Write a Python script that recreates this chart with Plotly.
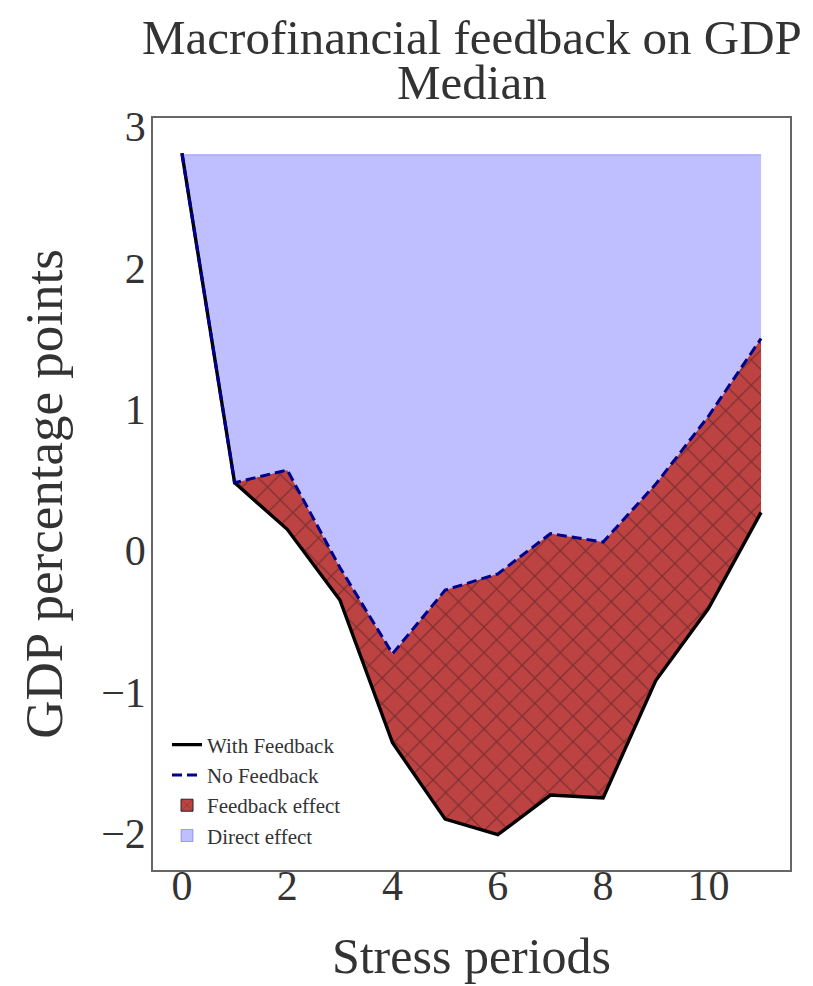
import plotly.graph_objects as go

periods = list(range(12))
with_feedback = [2.81, 0.48, 0.15, -0.35, -1.36, -1.90, -2.01, -1.73, -1.75, -0.92, -0.41, 0.27]
no_feedback = [2.81, 0.48, 0.57, -0.12, -0.73, -0.28, -0.165, 0.12, 0.06, 0.47, 0.95, 1.50]
baseline = [2.8] * 12

title_lines = ["Macrofinancial feedback on GDP", "Median"]
x_ticks = [0, 2, 4, 6, 8, 10]
y_ticks = [-2, -1, 0, 1, 2, 3]

FONT = "Liberation Serif"
TXT = "#333333"
RED = "#bd4343"
BLUE_FILL = "rgba(0,0,255,0.25)"

fig = go.Figure()

# Direct effect fill (between baseline and no-feedback path)
fig.add_trace(go.Scatter(x=periods, y=baseline, mode="lines",
                         line=dict(color="rgba(0,0,255,0.3)", width=1),
                         showlegend=False, hoverinfo="skip"))
fig.add_trace(go.Scatter(x=periods, y=no_feedback, mode="lines",
                         line=dict(width=0), fill="tonexty", fillcolor=BLUE_FILL,
                         showlegend=False, hoverinfo="skip"))
# Feedback effect fill (between no-feedback and with-feedback)
fig.add_trace(go.Scatter(x=periods, y=no_feedback, mode="lines",
                         line=dict(width=0), showlegend=False, hoverinfo="skip"))
fig.add_trace(go.Scatter(x=periods, y=with_feedback, mode="lines",
                         line=dict(width=0), fill="tonexty", fillcolor=RED,
                         fillpattern=dict(shape="x", bgcolor=RED, fgcolor="rgba(45,20,20,0.85)",
                                          size=18, solidity=0.14),
                         showlegend=False, hoverinfo="skip"))
# Lines
fig.add_trace(go.Scatter(x=periods, y=with_feedback, mode="lines", name="With Feedback",
                         line=dict(color="black", width=3.4), legendrank=1))
fig.add_trace(go.Scatter(x=periods, y=no_feedback, mode="lines", name="No Feedback",
                         line=dict(color="#00008b", width=3, dash="10px,5px"), legendrank=2))
# Legend-only patches
fig.add_trace(go.Bar(x=[None], y=[None], name="Feedback effect", legendrank=3,
                     marker=dict(color=RED, line=dict(color="#222", width=1),
                                 pattern=dict(shape="x", bgcolor=RED, fgcolor="rgba(40,20,20,0.8)",
                                              size=10, solidity=0.15))))
fig.add_trace(go.Bar(x=[None], y=[None], name="Direct effect", legendrank=4,
                     marker=dict(color=BLUE_FILL, line=dict(color="rgba(0,0,255,0.3)", width=1))))

fig.add_annotation(text=title_lines[0], xref="paper", yref="paper", x=0.5, y=1 + 81 / 754,
                   yanchor="middle", showarrow=False, font=dict(family=FONT, size=49, color=TXT))
fig.add_annotation(text=title_lines[1], xref="paper", yref="paper", x=0.5, y=1 + 36 / 754,
                   yanchor="middle", showarrow=False, font=dict(family=FONT, size=49, color=TXT))

fig.update_layout(
    width=805, height=978,
    margin=dict(l=145, r=23, t=110, b=114),
    paper_bgcolor="white", plot_bgcolor="white",
    showlegend=True,
    legend=dict(x=0.022, y=0.018, xanchor="left", yanchor="bottom", traceorder="normal",
                bgcolor="rgba(0,0,0,0)", font=dict(family=FONT, size=21, color=TXT),
                tracegroupgap=0, itemwidth=30),
    xaxis=dict(range=[-0.55, 11.55], tickvals=x_ticks, showgrid=False, zeroline=False,
               showline=True, mirror=True, linecolor="#666", linewidth=1.5, ticks="",
               ticklabelstandoff=-22,
               tickfont=dict(family=FONT, size=42, color=TXT),
               title=dict(text="Stress periods", font=dict(family=FONT, size=50, color=TXT), standoff=30)),
    yaxis=dict(range=[-2.26, 3.06], tickvals=y_ticks, showgrid=False, zeroline=False,
               showline=True, mirror=True, linecolor="#666", linewidth=1.5, ticks="",
               ticklabelstandoff=-3,
               tickfont=dict(family=FONT, size=42, color=TXT),
               title=dict(text="GDP percentage points", font=dict(family=FONT, size=53, color=TXT), standoff=22)),
    barmode="overlay",
)

fig.write_html("out.html")
